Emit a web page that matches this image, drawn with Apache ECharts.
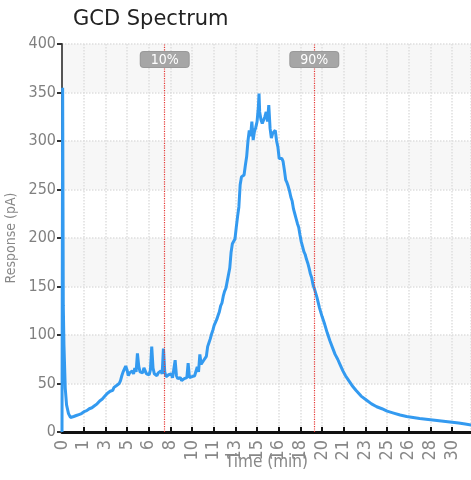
<!DOCTYPE html>
<html>
<head>
<meta charset="utf-8">
<style>
  html, body { margin: 0; padding: 0; background: #fff; }
  #app { width: 471px; height: 480px; }
</style>
<script src="https://cdn.jsdelivr.net/npm/echarts@6/dist/echarts.min.js"></script>
</head>
<body>
<div id="app"></div>
<script>
// 时间 (min)
const times = [
  0, 0.05, 0.1, 0.15, 0.25, 0.35, 0.5, 0.65,
  0.8, 0.9, 1.0, 1.1, 1.2, 1.3, 1.4, 1.5, 1.6, 1.7, 1.8, 1.9,
  2.0, 2.1, 2.2, 2.3, 2.4, 2.5, 2.6, 2.7, 2.8, 2.9,
  3.0, 3.1, 3.2, 3.3, 3.4, 3.5, 3.6, 3.7, 3.8, 3.9,
  4.0, 4.1, 4.2, 4.3, 4.4, 4.5, 4.6, 4.7, 4.8, 4.9,
  5.0, 5.1, 5.2, 5.3, 5.4, 5.5, 5.6, 5.7, 5.8, 5.9,
  6.0, 6.1, 6.2, 6.3, 6.4, 6.5, 6.6, 6.7, 6.8, 6.9,
  7.0, 7.1, 7.2, 7.3, 7.4, 7.5, 7.6, 7.7, 7.8, 7.9,
  8.0, 8.1, 8.2, 8.3, 8.4, 8.5, 8.6, 8.7, 8.8, 8.9,
  9.0, 9.1, 9.2, 9.3, 9.4, 9.5, 9.6, 9.7, 9.8, 9.9,
  10.0, 10.1, 10.2, 10.3, 10.4, 10.5, 10.6, 10.7, 10.8, 10.9,
  11.0, 11.1, 11.2, 11.3, 11.4, 11.5, 11.6, 11.7, 11.8, 11.9,
  12.0, 12.1, 12.2, 12.3, 12.4, 12.5, 12.6, 12.7, 12.8, 12.9,
  13.0, 13.1, 13.2, 13.3, 13.4, 13.5, 13.6, 13.7, 13.8, 13.9,
  14.0, 14.1, 14.2, 14.3, 14.4, 14.5, 14.6, 14.7, 14.8, 14.9,
  15.0, 15.1, 15.15, 15.2, 15.3, 15.4, 15.5, 15.6, 15.7, 15.8, 15.9,
  16.0, 16.1, 16.2, 16.3, 16.4, 16.5, 16.6, 16.7, 16.8, 16.9,
  17.0, 17.1, 17.2, 17.3, 17.4, 17.5, 17.6, 17.7, 17.8, 17.9,
  18.0, 18.1, 18.2, 18.3, 18.4, 18.5, 18.6, 18.7, 18.8, 18.9,
  19.0, 19.1, 19.2, 19.3, 19.4, 19.6, 19.8,
  20.0, 20.2, 20.4, 20.6, 20.8, 21.0, 21.2, 21.4, 21.6, 21.8,
  22.0, 22.3, 22.6, 23.0, 23.4, 23.8, 24.2, 24.6, 25.0, 25.5,
  26.0, 26.5, 27.0, 27.5, 28.0, 28.5, 29.0, 29.5, 30.0, 30.5,
  31.0, 31.5
];
// 响应 (pA)
const responses = [
  0, 355, 130, 90, 45, 28, 19, 15,
  14, 16, 15, 17, 16, 18, 17, 19, 18, 21, 20, 22,
  21, 24, 23, 25, 24, 27, 26, 29, 30, 32,
  31, 34, 35, 37, 36, 40, 39, 42, 44, 43,
  46, 45, 48, 47, 50, 53, 58, 62, 60, 68,
  64, 58, 61, 59, 63, 60, 66, 62, 81, 68,
  62, 64, 61, 66, 63, 60, 62, 59, 64, 88,
  66, 60, 62, 58, 61, 59, 63, 60, 86, 62,
  57, 56, 59, 57, 60, 56, 58, 74, 58, 55,
  54, 56, 53, 52, 55, 53, 56, 71, 56, 54,
  57, 55, 58, 60, 67, 62, 80, 70, 68, 74,
  76, 78, 88, 92, 96, 101, 105, 110, 108, 116,
  120, 124, 130, 133, 140, 145, 148, 155, 157, 169,
  185, 194, 196, 199, 211, 222, 232, 255, 263, 262,
  265, 275, 284, 300, 311, 305, 320, 301, 310, 314,
  320, 335, 349, 330, 322, 318, 317, 325, 330, 320, 337,
  313, 303, 308, 306, 311, 300, 294, 282, 280, 282,
  279, 270, 260, 257, 253, 248, 242, 238, 230, 225,
  220, 215, 211, 203, 196, 191, 186, 183, 178, 174,
  169, 163, 159, 152, 148, 139, 128,
  119, 111, 102, 94, 87, 80, 75, 69, 63, 58,
  54, 48, 43, 37, 33, 29, 26, 24, 21.5, 19.5,
  17.5, 16, 15, 14, 13.2, 12.4, 11.6, 10.8, 10, 9.2,
  8.2, 7
];
// x轴刻度标签 (每 5/3 分钟一个)
const xTickLabels = ['0', '1', '3', '5', '6', '8', '10', '11', '13', '15',
  '16', '18', '20', '21', '23', '25', '26', '28', '30'];
// 标记线
const markerTimes = [7.9, 19.4];
const markerLabels = ['10%', '90%'];

const xStep = 5 / 3;
const condensed = "'DejaVu Sans Condensed', 'DejaVu Sans', sans-serif";
const narrow = "'Liberation Sans Narrow', 'DejaVu Sans Condensed', sans-serif";

let myChart = echarts.init(document.getElementById('app'));

let seriesData = times.map(function(t, i) {
    return [t, responses[i]];
});

let markData = markerTimes.map(function(t, i) {
    return { xAxis: t, name: markerLabels[i] };
});

myChart.setOption({
    animation: false,
    title: {
        text: 'GCD Spectrum',
        left: 68,
        top: 4,
        textStyle: {
            fontFamily: "'DejaVu Sans', sans-serif",
            fontSize: 21,
            fontWeight: 'normal',
            color: '#222'
        }
    },
    grid: {
        left: 62,
        top: 44,
        right: 0,
        bottom: 48,
        outerBoundsMode: 'none'
    },
    xAxis: {
        type: 'value',
        min: 0,
        max: 31.45,
        interval: xStep,
        name: 'Time (min)',
        nameLocation: 'middle',
        nameGap: 31,
        nameMoveOverlap: false,
        nameTextStyle: {
            fontFamily: narrow,
            fontSize: 17,
            color: '#888',
            verticalAlign: 'middle'
        },
        axisLine: {
            lineStyle: { color: '#111', width: 3 }
        },
        axisTick: {
            inside: true,
            length: 5,
            lineStyle: { color: '#111', width: 2 }
        },
        axisLabel: {
            rotate: 90,
            margin: 8,
            showMaxLabel: false,
            fontFamily: narrow,
            fontSize: 18,
            color: '#888',
            formatter: function(v) {
                let idx = Math.round(v / xStep);
                return xTickLabels[idx] !== undefined ? xTickLabels[idx] : '';
            }
        },
        splitLine: {
            show: true,
            lineStyle: { color: '#dedede', type: 'dotted', width: 1.5 }
        }
    },
    yAxis: {
        type: 'value',
        min: 0,
        max: 400,
        interval: 50,
        name: 'Response (pA)',
        nameLocation: 'middle',
        nameGap: 44,
        nameMoveOverlap: false,
        nameTextStyle: {
            fontFamily: condensed,
            fontSize: 14,
            color: '#888'
        },
        axisLine: {
            show: true,
            lineStyle: { color: '#555', width: 2 }
        },
        axisTick: {
            show: true,
            length: 5,
            lineStyle: { color: '#333', width: 2 }
        },
        axisLabel: {
            margin: 6,
            fontFamily: condensed,
            fontSize: 16,
            color: '#808080'
        },
        splitLine: {
            lineStyle: { color: '#dedede', type: 'dotted', width: 1.5 }
        },
        splitArea: {
            show: true,
            areaStyle: { color: ['#ffffff', '#f7f7f7'] }
        }
    },
    series: [{
        type: 'line',
        data: seriesData,
        showSymbol: false,
        symbol: 'none',
        lineStyle: { color: '#339af0', width: 3 },
        markLine: {
            silent: true,
            symbol: 'none',
            lineStyle: { color: '#e53935', type: 'dotted', width: 1.2 },
            label: {
                show: true,
                position: 'end',
                offset: [0, 28],
                formatter: '{b}',
                fontFamily: condensed,
                fontSize: 14,
                color: '#fff',
                backgroundColor: '#a6a6a6',
                borderColor: '#999',
                borderWidth: 1,
                borderRadius: 3,
                padding: [1, 10, 0, 10]
            },
            data: markData
        }
    }]
});
</script>
</body>
</html>
